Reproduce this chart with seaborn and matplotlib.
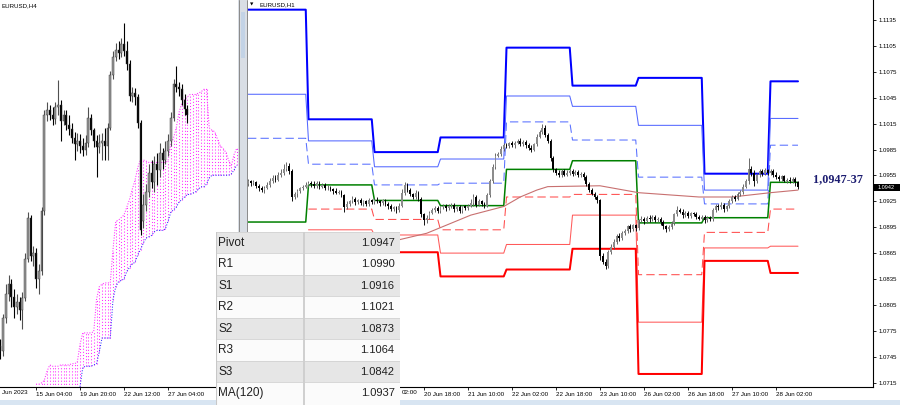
import numpy as np
import pandas as pd
import matplotlib
matplotlib.use("Agg")
import matplotlib.pyplot as plt
from matplotlib.patches import Rectangle
from matplotlib.lines import Line2D
import seaborn as sns

# ======================= DATA =======================
h1_symbol = "EURUSD,H1"
h4_symbol = "EURUSD,H4"

# --- H1 chart (bar 0 = 19 Jun 00:00, one bar per hour of trading) ---
h1_first_bar = -22
h1_first_open = 1.0945
h1_close = [
    1.0948, 1.0946, 1.0947, 1.0943, 1.0940, 1.0938, 1.0941, 1.0944, 1.0948, 1.0952,
    1.0950, 1.0955, 1.0958, 1.0962, 1.0966, 1.0960, 1.0930, 1.0933, 1.0937, 1.0940,
    1.0942, 1.0944, 1.0946, 1.0945, 1.0943, 1.0946, 1.0942, 1.0944, 1.0940, 1.0941,
    1.0939, 1.0937, 1.0935, 1.0936, 1.0932, 1.0918, 1.0922, 1.0925, 1.0928, 1.0924,
    1.0926, 1.0923, 1.0925, 1.0922, 1.0926, 1.0924, 1.0927, 1.0925, 1.0923, 1.0926,
    1.0922, 1.0919, 1.0916, 1.0918, 1.0915, 1.0920, 1.0935, 1.0944, 1.0938, 1.0933,
    1.0930, 1.0935, 1.0928, 1.0910, 1.0903, 1.0906, 1.0912, 1.0915, 1.0917, 1.0914,
    1.0918, 1.0920, 1.0917, 1.0919, 1.0921, 1.0916, 1.0918, 1.0914, 1.0919, 1.0917,
    1.0920, 1.0923, 1.0930, 1.0921, 1.0925, 1.0922, 1.0920, 1.0932, 1.0948, 1.0965,
    1.0978, 1.0980, 1.0986, 1.0990, 1.0989, 1.0992, 1.0990, 1.0993, 1.0995, 1.0991,
    1.0994, 1.0990, 1.0987, 1.0985, 1.0991, 1.1000, 1.1005, 1.1010, 1.1002, 1.0995,
    1.0975, 1.0962, 1.0958, 1.0955, 1.0960, 1.0956, 1.0958, 1.0960, 1.0957, 1.0959,
    1.0955, 1.0957, 1.0953, 1.0945, 1.0938, 1.0934, 1.0930, 1.0926, 1.0862, 1.0855,
    1.0850, 1.0866, 1.0872, 1.0878, 1.0885, 1.0882, 1.0888, 1.0891, 1.0896, 1.0893,
    1.0897, 1.0894, 1.0903, 1.0905, 1.0902, 1.0906, 1.0904, 1.0907, 1.0903, 1.0905,
    1.0901, 1.0896, 1.0893, 1.0895, 1.0900, 1.0910, 1.0915, 1.0913, 1.0909, 1.0912,
    1.0908, 1.0911, 1.0910, 1.0907, 1.0905, 1.0907, 1.0903, 1.0906, 1.0904, 1.0915,
    1.0920, 1.0918, 1.0921, 1.0916, 1.0919, 1.0925, 1.0930, 1.0928, 1.0933, 1.0936,
    1.0942, 1.0948, 1.0962, 1.0958, 1.0948, 1.0955, 1.0960, 1.0957, 1.0961, 1.0958,
    1.0960, 1.0956, 1.0953, 1.0951, 1.0954, 1.0949, 1.0950, 1.0948, 1.0951, 1.0947,
    1.0942,
]
h1_wick_up = [  # pips above the body
    3, 2, 3, 2, 2, 3, 2, 3, 4, 3,   3, 4, 5, 6, 4, 3, 2, 3, 2, 2,
    2, 3, 3, 2, 3, 2, 3, 2, 2, 3,   2, 2, 3, 2, 2, 2, 3, 2, 3, 2,
    2, 3, 2, 2, 3, 2, 2, 3, 2, 2,   2, 2, 3, 2, 2, 3, 4, 3, 2, 3,
    2, 3, 2, 2, 2, 3, 2, 2, 3, 2,   2, 2, 2, 3, 2, 2, 2, 3, 2, 2,
    2, 5, 4, 2, 3, 2, 2, 3, 3, 3,   3, 2, 3, 2, 3, 2, 3, 2, 2, 3,
    2, 2, 2, 3, 2, 3, 3, 5, 3, 2,   2, 2, 2, 3, 2, 2, 3, 2, 2, 2,
    2, 2, 2, 2, 2, 2, 2, 2, 2, 3,   3, 3, 3, 3, 2, 3, 3, 2, 2, 3,
    2, 2, 2, 3, 2, 2, 3, 2, 2, 2,   2, 2, 2, 2, 2, 2, 4, 2, 3, 2,
    2, 2, 2, 3, 2, 2, 2, 2, 2, 2,   2, 2, 3, 2, 2, 3, 2, 2, 3, 2,
    3, 3, 13, 4, 3, 3, 3, 2, 3, 2,  2, 2, 3, 2, 2, 2, 2, 3, 2, 2,
    2,
]
h1_wick_dn = [  # pips below the body
    2, 3, 2, 3, 3, 2, 3, 2, 2, 2,   3, 2, 2, 2, 2, 3, 5, 2, 3, 2,
    2, 2, 2, 3, 2, 2, 3, 2, 2, 2,   2, 3, 2, 2, 2, 5, 2, 2, 2, 3,
    2, 2, 3, 2, 2, 2, 2, 2, 3, 2,   3, 3, 2, 2, 3, 2, 2, 3, 2, 2,
    2, 2, 3, 3, 5, 3, 2, 2, 2, 3,   2, 2, 3, 2, 2, 3, 2, 3, 2, 2,
    2, 2, 3, 3, 2, 2, 3, 2, 2, 2,   2, 2, 2, 3, 2, 2, 2, 3, 2, 2,
    2, 3, 2, 3, 2, 2, 2, 2, 3, 3,   3, 3, 3, 2, 2, 2, 2, 2, 3, 2,
    2, 2, 3, 2, 2, 2, 2, 3, 5, 3,   3, 2, 2, 2, 2, 3, 2, 2, 3, 3,
    2, 3, 2, 2, 3, 2, 3, 2, 2, 2,   3, 3, 3, 2, 2, 2, 2, 2, 3, 2,
    2, 2, 2, 2, 2, 2, 3, 2, 2, 2,   2, 3, 2, 3, 2, 2, 2, 3, 2, 2,
    2, 2, 3, 4, 5, 2, 2, 3, 2, 2,   2, 3, 2, 2, 3, 2, 3, 2, 2, 4,
    3,
]

# daily pivot levels (days: 16, 19, 20, 21, 22, 23, 26, 27, 28 Jun)
pivot_days = ["16 Jun", "19 Jun", "20 Jun", "21 Jun", "22 Jun", "23 Jun", "26 Jun", "27 Jun", "28 Jun"]
lvl_r3 = [1.1147, 1.1020, 1.0982, 1.0999, 1.1103, 1.1059, 1.1068, 1.0957, 1.1064]
lvl_r2 = [1.1049, 1.0995, 1.0965, 1.0974, 1.1047, 1.1035, 1.1013, 1.0938, 1.1021]
lvl_r1 = [1.0998, 1.0968, 1.0944, 1.0946, 1.1017, 1.0996, 1.0953, 1.0922, 1.0990]
lvl_p  = [1.0901, 1.0944, 1.0926, 1.0920, 1.0962, 1.0972, 1.0900, 1.0906, 1.0947]
lvl_s1 = [np.nan, 1.0916, 1.0904, 1.0892, 1.0930, 1.0933, 1.0840, 1.0889, 1.0916]
lvl_s2 = [np.nan, 1.0892, 1.0886, 1.0865, 1.0875, 1.0909, 1.0785, 1.0871, 1.0873]
lvl_s3 = [np.nan, np.nan, 1.0866, 1.0838, 1.0846, 1.0870, 1.0725, 1.0856, 1.0842]

# MA(120) read at a few bars
ma_bars = [31, 43, 59, 71, 77, 83, 87, 106, 120, 142, 154, 168, 178]
ma_vals = [1.0879, 1.0888, 1.0909, 1.0919, 1.0930, 1.0938, 1.0942, 1.0943, 1.0935, 1.0930, 1.0930, 1.0935, 1.0938]

# time axis labels; the ones left of the table are covered, only "02:00" shows
h1_tick_bars = [26, 42, 58, 74, 90, 106, 122, 138, 154, 170]
h1_tick_labels = ["", "20 Jun 18:00", "21 Jun 10:00",
                  "22 Jun 02:00", "22 Jun 18:00", "23 Jun 10:00", "26 Jun 02:00", "26 Jun 18:00",
                  "27 Jun 10:00", "28 Jun 02:00"]
h1_partial_label = "02:00"
price_ticks = [1.1135, 1.1105, 1.1075, 1.1045, 1.1015, 1.0985, 1.0955, 1.0925,
               1.0895, 1.0865, 1.0835, 1.0805, 1.0775, 1.0745, 1.0715]
last_price = 1.0942
zone_label = "1,0947-37"

table_labels = ["Pivot", "R1", "S1", "R2", "S2", "R3", "S3", "MA(120)"]
table_values = ["1.0947", "1.0990", "1.0916", "1.1021", "1.0873", "1.1064", "1.0842", "1.0937"]

# --- H4 chart (bar 0 = 15 Jun 04:00) ---
h4_first_bar = -13
h4_open = [
    1.0760, 1.0756, 1.0782, 1.0800, 1.0808, 1.0798, 1.0790, 1.0794, 1.0788, 1.0797,
    1.0828, 1.0860, 1.0830, 1.0832, 1.0812, 1.0818, 1.0865, 1.0940, 1.0944, 1.0940,
    1.0937, 1.0946, 1.0948, 1.0935, 1.0940, 1.0932, 1.0929, 1.0922, 1.0917, 1.0920,
    1.0916, 1.0913, 1.0918, 1.0938, 1.0928, 1.0920, 1.0915, 1.0918, 1.0920, 1.0916,
    1.0930, 1.0971, 1.0985, 1.0991, 1.0988, 1.0995, 1.0990, 1.0980, 1.0955, 1.0957,
    1.0954, 1.0934, 1.0857, 1.0870, 1.0880, 1.0895, 1.0888, 1.0902, 1.0897, 1.0910,
    1.0905, 1.0912, 1.0920, 1.0938, 1.0964, 1.0962, 1.0960, 1.0952, 1.0945,
]
h4_close = [
    1.0756, 1.0782, 1.0800, 1.0808, 1.0798, 1.0790, 1.0794, 1.0788, 1.0797, 1.0828,
    1.0860, 1.0830, 1.0832, 1.0812, 1.0818, 1.0865, 1.0940, 1.0944, 1.0940, 1.0937,
    1.0946, 1.0948, 1.0935, 1.0940, 1.0932, 1.0929, 1.0922, 1.0917, 1.0920, 1.0916,
    1.0913, 1.0918, 1.0938, 1.0928, 1.0920, 1.0915, 1.0918, 1.0920, 1.0916, 1.0930,
    1.0971, 1.0985, 1.0991, 1.0988, 1.0995, 1.0990, 1.0980, 1.0955, 1.0957, 1.0954,
    1.0934, 1.0850, 1.0870, 1.0880, 1.0895, 1.0888, 1.0902, 1.0897, 1.0910, 1.0905,
    1.0912, 1.0920, 1.0938, 1.0964, 1.0962, 1.0960, 1.0952, 1.0945, 1.0940,
]
h4_high = [
    1.0765, 1.0785, 1.0808, 1.0815, 1.0812, 1.0804, 1.0800, 1.0798, 1.0802, 1.0832,
    1.0864, 1.0862, 1.0838, 1.0836, 1.0824, 1.0868, 1.0944, 1.0950, 1.0948, 1.0946,
    1.0950, 1.0967, 1.0952, 1.0944, 1.0944, 1.0940, 1.0934, 1.0927, 1.0926, 1.0925,
    1.0922, 1.0924, 1.0946, 1.0941, 1.0930, 1.0924, 1.0925, 1.0926, 1.0930, 1.0934,
    1.0974, 1.0990, 1.0996, 1.0998, 1.1000, 1.1012, 1.0998, 1.0983, 1.0962, 1.0961,
    1.0956, 1.0936, 1.0878, 1.0886, 1.0902, 1.0905, 1.0908, 1.0910, 1.0918, 1.0914,
    1.0920, 1.0925, 1.0942, 1.0968, 1.0978, 1.0966, 1.0964, 1.0956, 1.0948,
]
h4_low = [
    1.0750, 1.0752, 1.0778, 1.0795, 1.0790, 1.0782, 1.0785, 1.0780, 1.0773, 1.0795,
    1.0825, 1.0826, 1.0822, 1.0805, 1.0800, 1.0815, 1.0862, 1.0935, 1.0936, 1.0932,
    1.0933, 1.0940, 1.0920, 1.0932, 1.0928, 1.0924, 1.0918, 1.0905, 1.0912, 1.0910,
    1.0908, 1.0909, 1.0915, 1.0924, 1.0915, 1.0892, 1.0910, 1.0905, 1.0905, 1.0905,
    1.0928, 1.0968, 1.0982, 1.0984, 1.0985, 1.0986, 1.0975, 1.0951, 1.0950, 1.0948,
    1.0930, 1.0846, 1.0852, 1.0865, 1.0876, 1.0883, 1.0880, 1.0885, 1.0892, 1.0898,
    1.0902, 1.0908, 1.0916, 1.0935, 1.0958, 1.0955, 1.0948, 1.0940, 1.0934,
]
# Ichimoku cloud (bars 0..73 of the H4 chart)
cloud_first_bar = 0
cloud_upper = [
    1.0730, 1.0730, 1.0731, 1.0733, 1.0740, 1.0745, 1.0744, 1.0744, 1.0744, 1.0745,
    1.0745, 1.0745, 1.0745, 1.0746, 1.0746, 1.0747, 1.0761, 1.0770, 1.0770, 1.0770,
    1.0770, 1.0771, 1.0796, 1.0806, 1.0808, 1.0809, 1.0809, 1.0809, 1.0835, 1.0857,
    1.0858, 1.0860, 1.0862, 1.0868, 1.0874, 1.0882, 1.0889, 1.0899, 1.0905, 1.0905,
    1.0904, 1.0903, 1.0903, 1.0903, 1.0903, 1.0903, 1.0903, 1.0903, 1.0904, 1.0917,
    1.0922, 1.0930, 1.0942, 1.0949, 1.0952, 1.0954, 1.0956, 1.0956, 1.0956, 1.0957,
    1.0958, 1.0960, 1.0960, 1.0930, 1.0928, 1.0927, 1.0921, 1.0916, 1.0914, 1.0911,
    1.0905, 1.0900, 1.0909, 1.0914,
]
cloud_lower = [
    1.0718, 1.0718, 1.0718, 1.0718, 1.0718, 1.0718, 1.0718, 1.0718, 1.0718, 1.0718,
    1.0718, 1.0718, 1.0718, 1.0718, 1.0718, 1.0718, 1.0728, 1.0743, 1.0744, 1.0744,
    1.0744, 1.0745, 1.0746, 1.0755, 1.0766, 1.0766, 1.0766, 1.0766, 1.0796, 1.0806,
    1.0810, 1.0811, 1.0812, 1.0818, 1.0821, 1.0824, 1.0825, 1.0831, 1.0835, 1.0840,
    1.0844, 1.0845, 1.0846, 1.0849, 1.0850, 1.0850, 1.0850, 1.0851, 1.0857, 1.0864,
    1.0866, 1.0868, 1.0872, 1.0874, 1.0876, 1.0878, 1.0878, 1.0879, 1.0880, 1.0882,
    1.0884, 1.0884, 1.0886, 1.0891, 1.0893, 1.0893, 1.0893, 1.0893, 1.0893, 1.0893,
    1.0893, 1.0894, 1.0897, 1.0901,
]
h4_tick_bars = [0, 16, 32, 48]
h4_tick_labels = ["15 Jun 04:00", "19 Jun 20:00", "22 Jun 12:00", "27 Jun 04:00"]
h4_partial_label = "Jun 2023"

# ======================= STYLE / LAYOUT =======================
sns.set_theme(style="white")
plt.rcParams["font.family"] = ["Liberation Sans", "DejaVu Sans"]

W, H = 900, 405
fig = plt.figure(figsize=(9, 4.05), dpi=100)
fig.patch.set_facecolor("white")


def frect(x0, y0, x1, y1):
    return [x0 / W, 1 - y1 / H, (x1 - x0) / W, (y1 - y0) / H]


def fx(px):
    return px / W


def fy(py):
    return 1 - py / H


axL = fig.add_axes(frect(0, 0, 238, 387))
ax = fig.add_axes(frect(246, 0, 873, 387))
for a in (axL, ax):
    a.set_facecolor("white")
    for s in a.spines.values():
        s.set_visible(False)

PX_H1 = 2.75
ax.set_xlim((246 - 308.5) / PX_H1, (873 - 308.5) / PX_H1)
ax.set_ylim(1.07099, 1.11582)
axL.set_xlim(-36 / 2.75, (238 - 36) / 2.75)
axL.set_ylim(1.07278, 1.10297)


def draw_candles(axis, x, o, h, l, c, width, up_col, dn_col, up_wick, dn_wick, wlw, edge=None, elw=0):
    up = c >= o
    axis.vlines(x, l, h, colors=np.where(up, up_wick, dn_wick), lw=wlw, zorder=3)
    body = np.maximum(np.abs(c - o), 0.00004)
    axis.bar(x, body, bottom=np.minimum(o, c), width=width,
             color=np.where(up, up_col, dn_col),
             edgecolor=edge if edge else "none", linewidth=elw, zorder=4)


# ---------------- H4 (left) ----------------
kc = np.arange(cloud_first_bar, cloud_first_bar + len(cloud_upper))
cu = np.array(cloud_upper)
cl = np.array(cloud_lower)
axL.vlines(kc, cl, cu, colors="#ff2cff", linestyles=(0, (1, 2)), lw=0.75, zorder=1)
lower_df = pd.DataFrame({"bar": kc[16:], "val": cl[16:]})
sns.lineplot(data=lower_df, x="bar", y="val", ax=axL, color="#3030ff", lw=0.75,
             linestyle=(0, (1, 1.5)), estimator=None, legend=False, zorder=2)
upper_df = pd.DataFrame({"bar": kc, "val": cu})
sns.lineplot(data=upper_df, x="bar", y="val", ax=axL, color="#ff2cff", lw=0.75,
             linestyle=(0, (1, 1.5)), estimator=None, legend=False, zorder=2)

k = np.arange(h4_first_bar, h4_first_bar + len(h4_close))
draw_candles(axL, k, np.array(h4_open), np.array(h4_high), np.array(h4_low), np.array(h4_close),
             0.72, "#9a9a9a", "#000000", "#505050", "#000000", 0.8, edge="#303030", elw=0.3)

axL.set_xticks(h4_tick_bars)
axL.set_xticklabels(h4_tick_labels)
axL.set_yticks([])
axL.spines["bottom"].set_visible(True)
axL.spines["bottom"].set_color("#000000")
axL.spines["bottom"].set_linewidth(0.8)
axL.tick_params(axis="x", bottom=True, length=2.5, width=0.6, pad=1.2,
                labelsize=4.5, colors="#000000", direction="out")
for lbl in axL.get_xticklabels():
    lbl.set_ha("left")
fig.text(fx(2), fy(392.3), h4_partial_label, fontsize=4.5, ha="left", va="center", color="black")
fig.text(fx(2), fy(5.5), h4_symbol, fontsize=4.4, ha="left", va="center", color="black")

# ---------------- H1 (right) ----------------
b = np.arange(h1_first_bar, h1_first_bar + len(h1_close))
c = np.array(h1_close)
o = np.r_[h1_first_open, c[:-1]]
hi = np.maximum(o, c) + np.array(h1_wick_up) * 1e-4
lo = np.minimum(o, c) - np.array(h1_wick_dn) * 1e-4
day_idx = (b + 24) // 24

levels = [
    (lvl_r3, "#0000ff", 1.45, "-"),
    (lvl_r2, "#5468ff", 0.75, "-"),
    (lvl_r1, "#5870ff", 0.75, (0, (8, 4))),
    (lvl_p, "#008000", 1.1, "-"),
    (lvl_s1, "#ff4c4c", 0.75, (0, (8, 4))),
    (lvl_s2, "#ff5a5a", 0.75, "-"),
    (lvl_s3, "#ff0000", 1.45, "-"),
]
for vals, col, lw, ls in levels:
    df = pd.DataFrame({"bar": b, "val": np.array(vals)[day_idx]}).dropna()
    sns.lineplot(data=df, x="bar", y="val", ax=ax, color=col, lw=lw, linestyle=ls,
                 estimator=None, legend=False, zorder=2)

ma_df = pd.DataFrame({"bar": ma_bars, "val": ma_vals})
sns.lineplot(data=ma_df, x="bar", y="val", ax=ax, color="#c87070", lw=0.8,
             estimator=None, legend=False, zorder=2)

draw_candles(ax, b, o, hi, lo, c, 0.6, "#8c8c8c", "#000000", "#5e5e5e", "#000000", 0.65)

ax.set_xticks(h1_tick_bars)
ax.set_xticklabels(h1_tick_labels)
ax.yaxis.tick_right()
ax.set_yticks(price_ticks)
ax.set_yticklabels([f"{v:.4f}" for v in price_ticks])
ax.set_xlabel("")
ax.set_ylabel("")
axL.set_xlabel("")
axL.set_ylabel("")
for sp in ("right", "bottom"):
    ax.spines[sp].set_visible(True)
    ax.spines[sp].set_color("#000000")
    ax.spines[sp].set_linewidth(0.8)
ax.tick_params(axis="x", bottom=True, length=2.5, width=0.6, pad=1.2,
               labelsize=4.5, colors="#000000", direction="out")
ax.tick_params(axis="y", right=True, left=False, length=2.5, width=0.6, pad=1.5,
               labelsize=4.3, colors="#000000", direction="out")
for lbl in ax.get_xticklabels():
    lbl.set_ha("left")
fig.text(fx(402), fy(392.3), h1_partial_label, fontsize=4.5, ha="left", va="center", color="black")

fig.text(fx(250), fy(4.5), "\u25bc", fontsize=3.2, ha="left", va="center",
         color="black", family=["DejaVu Sans"])
fig.text(fx(259), fy(4.5), h1_symbol, fontsize=4.4, ha="left", va="center", color="black")

# zone label and current price box
fig.text(fx(838), fy(179), zone_label, fontsize=8.7, fontweight="bold", ha="center", va="center",
         color="#1c1c70", family=["Liberation Serif", "DejaVu Serif"])
fig.patches.append(Rectangle((fx(873), fy(191.5)), 27 / W, 7.5 / H, transform=fig.transFigure,
                             facecolor="black", edgecolor="none", zorder=3))
fig.text(fx(886.5), fy(187.7), f"{last_price:.4f}", fontsize=4.0, ha="center", va="center",
         color="white", zorder=4)

# separator between the two charts
fig.patches.append(Rectangle((fx(238), fy(232)), 9 / W, 232 / H, transform=fig.transFigure,
                             facecolor="#d9dee5", edgecolor="none", zorder=2))
fig.patches.append(Rectangle((fx(240.5), fy(58)), 4.5 / W, 46 / H, transform=fig.transFigure,
                             facecolor="#c3d3e6", edgecolor="none", zorder=2))
for xp in (239.2, 246.6):
    fig.lines.append(Line2D([fx(xp), fx(xp)], [fy(0), fy(232)], transform=fig.transFigure,
                            color="#8a8a8a", lw=0.7, zorder=3))

# bottom window strip
fig.patches.append(Rectangle((0, 0), 1, 5 / H, transform=fig.transFigure,
                             facecolor="#d8e5f2", edgecolor="none", zorder=2))

# ---------------- table overlay ----------------
tax = fig.add_axes(frect(216, 231.7, 400, 405))
tax.set_zorder(10)
tax.set_xlim(0, 184)
tax.set_ylim(173.3, 0)
tax.axis("off")
row_h = 21.5
for i, (lab, val) in enumerate(zip(table_labels, table_values)):
    y0 = i * row_h
    col = "#e6e6e6" if i % 2 == 0 else "#fbfbfb"
    tax.add_patch(Rectangle((0, y0), 184, row_h if i < 7 else 173.3 - y0, facecolor=col,
                            edgecolor="none"))
    tax.add_line(Line2D([0, 184], [y0, y0], color="#d2d2d2", lw=0.6))
    tax.text(2.3, y0 + row_h / 2 + 0.3, lab, fontsize=8.5, ha="left", va="center", color="#202020")
    tax.text(178.5, y0 + row_h / 2 + 0.3, val, fontsize=8.0, ha="right", va="center", color="#202020")
tax.add_line(Line2D([88, 88], [0, 173.3], color="#cfcfcf", lw=1.4))
tax.add_line(Line2D([0.4, 0.4], [0, 173.3], color="#c8c8c8", lw=0.8))
tax.add_line(Line2D([183.6, 183.6], [0, 173.3], color="#d8d8d8", lw=0.6))

fig.savefig("out.png", dpi=100, facecolor="white")
